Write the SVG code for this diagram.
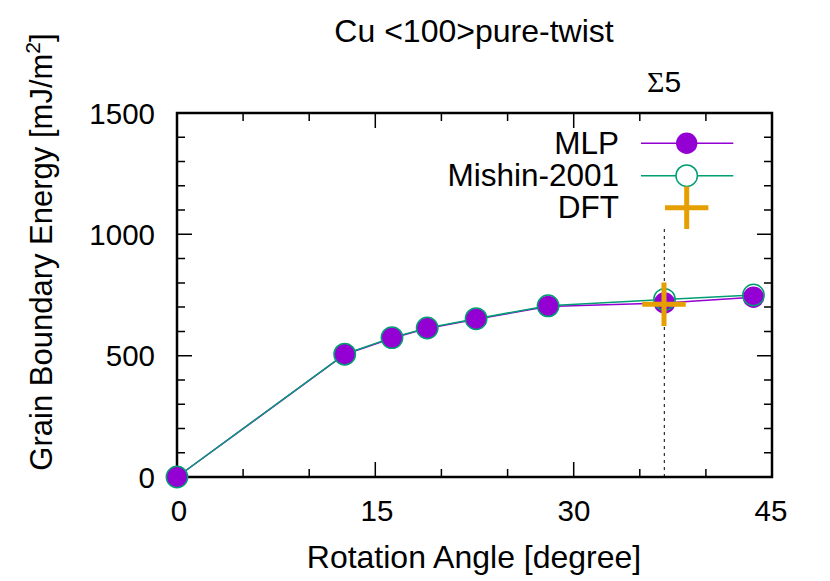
<svg xmlns="http://www.w3.org/2000/svg" width="830" height="581" viewBox="0 0 830 581">
<style>
text{font-family:"Liberation Sans",Arial,sans-serif;fill:#000}
.tick{font-size:29.5px}
.lbl{font-size:32px}
.leg{font-size:31.5px}
.ytl{text-anchor:end}
.xtl{text-anchor:middle}
.frame{fill:none;stroke:#000;stroke-width:2.5}
.tk{stroke:#000;stroke-width:1.5}
.mlp{fill:none;stroke:#9400D3;stroke-width:1.5}
.mis{fill:none;stroke:#009E73;stroke-width:1.5}
.dot{fill:#9400D3;stroke:none}
.ring{fill:none;stroke:#009E73;stroke-width:1.5}
.dft{stroke:#E69F00;stroke-width:5;fill:none}
</style>
<rect width="830" height="581" fill="#fff"/>
<g id="title"><text class="lbl" x="474" y="42" text-anchor="middle">Cu &lt;100&gt;pure-twist</text></g>
<g id="sigma5-label"><text x="664" y="92" text-anchor="middle" font-size="30"><tspan font-family="Liberation Serif, serif">Σ</tspan>5</text></g>
<g id="axes">
<path class="tk" d="M177 477h15M177 355.7h15M177 234.3h15M177 113h15M772 477h-15M772 355.7h-15M772 234.3h-15M772 113h-15
M177 452.7h8M177 428.5h8M177 404.2h8M177 379.9h8M177 331.4h8M177 307.1h8M177 282.9h8M177 258.6h8M177 210.1h8M177 185.8h8M177 161.5h8M177 137.3h8
M772 452.7h-8M772 428.5h-8M772 404.2h-8M772 379.9h-8M772 331.4h-8M772 307.1h-8M772 282.9h-8M772 258.6h-8M772 210.1h-8M772 185.8h-8M772 161.5h-8M772 137.3h-8
M375.3 477v-15M573.7 477v-15M375.3 113v15M573.7 113v15
M243.1 477v-8M309.2 477v-8M441.4 477v-8M507.6 477v-8M639.8 477v-8M705.9 477v-8
M243.1 113v8M309.2 113v8M441.4 113v8M507.6 113v8M639.8 113v8M705.9 113v8"/>
<rect class="frame" x="177" y="113" width="595" height="364"/>
</g>
<g id="y-ticklabels" class="tick ytl">
<text x="155" y="487.5">0</text>
<text x="155" y="366.2">500</text>
<text x="155" y="244.8">1000</text>
<text x="155" y="123.5">1500</text>
</g>
<g id="x-ticklabels" class="tick xtl">
<text x="179" y="521">0</text>
<text x="377" y="521">15</text>
<text x="574" y="521">30</text>
<text x="771" y="521">45</text>
</g>
<g id="y-label"><text font-size="31" transform="translate(52,252) rotate(-90)" text-anchor="middle">Grain Boundary Energy [mJ/m<tspan font-size="21" dy="-12">2</tspan><tspan dy="12">]</tspan></text></g>
<g id="x-label"><text class="lbl" x="474" y="568" text-anchor="middle">Rotation Angle [degree]</text></g>
<g id="connectors">
<line x1="664.3" y1="477" x2="664.3" y2="225" stroke="#000" stroke-width="1" stroke-dasharray="3,4"/>
<polyline class="mlp" points="177,477 344.7,354.5 392,338.2 427.2,328.4 476.1,319.2 548.1,306.4 664.5,303 753.5,297.2"/>
<polyline class="mis" points="177,477 344.7,354.2 392,337.6 427.2,328 476.1,318.7 548.1,305.8 664.5,299.4 753.5,295"/>
</g>
<g id="mlp-points">
<circle class="dot" cx="177" cy="477" r="10.7"/>
<circle class="dot" cx="344.7" cy="354.5" r="10.7"/>
<circle class="dot" cx="392" cy="338.2" r="10.7"/>
<circle class="dot" cx="427.2" cy="328.4" r="10.7"/>
<circle class="dot" cx="476.1" cy="319.2" r="10.7"/>
<circle class="dot" cx="548.1" cy="306.4" r="10.7"/>
<circle class="dot" cx="664.5" cy="303" r="10.7"/>
<circle class="dot" cx="753.5" cy="297.2" r="10.7"/>
</g>
<g id="mishin-points">
<circle class="ring" cx="177" cy="477" r="10.7"/>
<circle class="ring" cx="344.7" cy="354.2" r="10.7"/>
<circle class="ring" cx="392" cy="337.6" r="10.7"/>
<circle class="ring" cx="427.2" cy="328" r="10.7"/>
<circle class="ring" cx="476.1" cy="318.7" r="10.7"/>
<circle class="ring" cx="548.1" cy="305.8" r="10.7"/>
<circle class="ring" cx="664.5" cy="299.4" r="10.7"/>
<circle class="ring" cx="753.5" cy="295" r="10.7"/>
</g>
<g id="dft-point"><path class="dft" d="M642.3 304.3h43.4M664 282.6v43.4"/></g>
<g id="legend">
<g id="legend-mlp"><text class="leg" x="619" y="154" text-anchor="end">MLP</text><line class="mlp" x1="641" y1="143.3" x2="733.3" y2="143.3"/><circle class="dot" cx="686.7" cy="143.3" r="10.7"/></g>
<g id="legend-mishin"><text class="leg" x="619" y="186" text-anchor="end">Mishin-2001</text><line class="mis" x1="641" y1="175.7" x2="733.3" y2="175.7"/><circle cx="686.7" cy="175.7" r="10.7" fill="#fff" stroke="#009E73" stroke-width="1.5"/></g>
<g id="legend-dft"><text class="leg" x="619" y="218" text-anchor="end">DFT</text><path class="dft" d="M665 207.7h43.4M686.7 186.4v42.6"/></g>
</g>
</svg>
